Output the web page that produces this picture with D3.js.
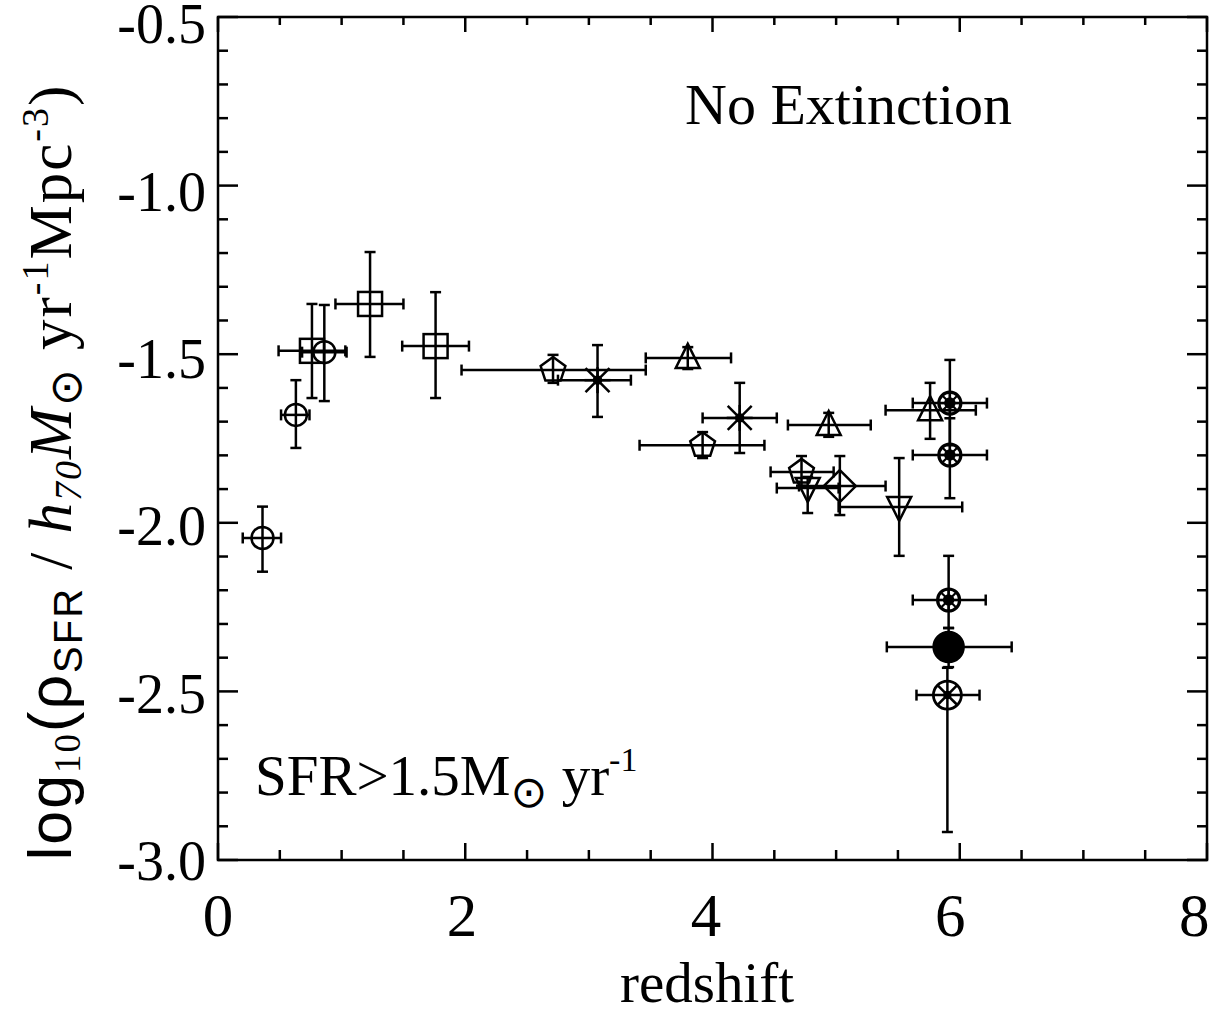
<!DOCTYPE html>
<html><head><meta charset="utf-8">
<script src="https://cdn.jsdelivr.net/npm/d3@7"></script>
<style>body{margin:0;background:#fff}svg{display:block}</style>
</head><body><svg id="c" width="1217" height="1016"></svg>
<script>
// ---- data ----
const redshift = [0.36, 0.63, 0.76, 0.86, 1.23, 1.76, 2.71, 3.07, 3.80, 3.92, 4.22, 4.94, 4.72, 4.77, 5.03, 5.51, 5.76, 5.92, 5.92, 5.91, 5.91, 5.90];
const logSFR   = [-2.045, -1.680, -1.490, -1.494, -1.351, -1.476, -1.547, -1.577, -1.511, -1.770, -1.689, -1.710, -1.849, -1.897, -1.891, -1.953, -1.666, -1.645, -1.799, -2.229, -2.368, -2.511];
const zLow     = [0.20, 0.51, 0.49, 0.68, 0.95, 1.49, 1.97, 2.75, 3.46, 3.41, 3.92, 4.61, 4.47, 4.52, 4.70, 5.02, 5.40, 5.62, 5.62, 5.62, 5.41, 5.65];
const zHigh    = [0.51, 0.74, 1.03, 1.04, 1.50, 2.03, 3.46, 3.34, 4.15, 4.42, 4.52, 5.28, 4.98, 5.02, 5.40, 6.02, 6.13, 6.22, 6.22, 6.21, 6.42, 6.16];
const yLow     = [-2.145, -1.778, -1.630, -1.639, -1.508, -1.630, -1.585, -1.686, -1.544, -1.808, -1.793, -1.745, -1.890, -1.971, -1.977, -2.098, -1.751, -1.770, -1.927, -2.312, -2.428, -2.917];
const yHigh    = [-1.952, -1.577, -1.351, -1.354, -1.197, -1.316, -1.502, -1.473, -1.479, -1.731, -1.585, -1.674, -1.802, -1.864, -1.802, -1.808, -1.585, -1.517, -1.690, -2.098, -2.312, -2.430];
const symbols  = ["circle","circle","square","circle","square","square","pentagon","asterisk","triangle","pentagon","asterisk","triangle","pentagon","triangleDown","diamond","triangleDown","triangle","circleSpoke","circleSpoke","circleSpoke","filledCircle","circleX"];
const xTickLabels = [0, 2, 4, 6, 8];
const yTickLabels = [-0.5, -1.0, -1.5, -2.0, -2.5, -3.0];

const svg = d3.select("#c");
svg.append("rect").attr("width",1217).attr("height",1016).attr("fill","#fff");

const x = d3.scaleLinear().domain([0, 8]).range([218, 1207]);
const y = d3.scaleLinear().domain([-3.0, -0.5]).range([860, 17]);
const L = 218, R = 1207, T = 17, B = 860;
const serif = "'Liberation Serif','Times New Roman',serif";
const sans = "'Liberation Sans',Arial,sans-serif";
const SW = 2.5;

// ---- axes ----
const ax = svg.append("g").attr("stroke","#000").attr("stroke-width",SW).attr("fill","none");
ax.append("rect").attr("x",L).attr("y",T).attr("width",R-L).attr("height",B-T);

const xMinor = d3.range(0, 8.001, 0.5);
xMinor.forEach(v => {
  const major = Math.abs(v - Math.round(v/2)*2) < 1e-6;
  const len = major ? 17 : 10;
  ax.append("line").attr("x1",x(v)).attr("x2",x(v)).attr("y1",B).attr("y2",B-len);
  ax.append("line").attr("x1",x(v)).attr("x2",x(v)).attr("y1",T).attr("y2",T+(major?15:8));
});
const yMinor = d3.range(-3.0, -0.499, 0.1);
yMinor.forEach(v => {
  const major = Math.abs(v*2 - Math.round(v*2)) < 1e-6;
  const len = major ? 20 : 10;
  ax.append("line").attr("x1",L).attr("x2",L+len).attr("y1",y(v)).attr("y2",y(v));
  ax.append("line").attr("x1",R).attr("x2",R-len).attr("y1",y(v)).attr("y2",y(v));
});

// tick labels (slight drift as in the scanned original)
svg.append("g").selectAll("text").data(xTickLabels).join("text")
  .attr("x", d => x(d) - 1.6*d).attr("y", 936)
  .attr("text-anchor","middle").attr("font-family",serif).attr("font-size",61)
  .text(d => d);
svg.append("g").selectAll("text").data(yTickLabels).join("text")
  .attr("x", 206).attr("y", d => y(d) + 2.4*(d + 3)).attr("dy","0.36em")
  .attr("text-anchor","end").attr("font-family",serif).attr("font-size",56)
  .text(d => d.toFixed(1));

// axis titles
svg.append("text").attr("x", 707).attr("y", 1002).attr("text-anchor","middle")
  .attr("font-family",serif).attr("font-size",57).text("redshift");

const yt = svg.append("text").attr("transform","translate(71,472) rotate(-90)")
  .attr("text-anchor","middle").attr("font-size",61).attr("font-family",serif)
  .attr("letter-spacing",2);
yt.append("tspan").attr("font-family",sans).text("log");
yt.append("tspan").attr("font-family",serif).attr("font-size",37).attr("dy",9).text("10");
yt.append("tspan").attr("font-family",sans).attr("dy",-9).text("(ρ");
yt.append("tspan").attr("font-family",sans).attr("font-size",40).attr("dy",11).text("SFR");
yt.append("tspan").attr("dy",-11).text(" / ");
yt.append("tspan").attr("font-style","italic").text("h");
yt.append("tspan").attr("font-style","italic").attr("font-size",38).attr("dy",10).text("70");
yt.append("tspan").attr("font-style","italic").attr("dy",-10).text("M");
yt.append("tspan").attr("font-family","'DejaVu Sans',sans-serif").attr("font-size",44).attr("dy",10).text("⊙");
yt.append("tspan").attr("dy",-10).text(" yr");
yt.append("tspan").attr("font-size",38).attr("dy",-23).text("-1");
yt.append("tspan").attr("dy",23).text("Mpc");
yt.append("tspan").attr("font-size",38).attr("dy",-23).text("-3");
yt.append("tspan").attr("dy",23).text(")");

// annotations
svg.append("text").attr("x", 685).attr("y", 124).attr("font-family",serif).attr("font-size",58).text("No Extinction");
const ann = svg.append("text").attr("x", 255).attr("y", 795).attr("font-family",serif).attr("font-size",57);
ann.append("tspan").text("SFR>1.5M");
ann.append("tspan").attr("font-family","'DejaVu Sans',sans-serif").attr("font-size",44).attr("dy",12).text("⊙");
ann.append("tspan").attr("dy",-12).text(" yr");
ann.append("tspan").attr("font-size",34).attr("dy",-24).text("-1");

// ---- data marks ----
const pts = redshift.map((z,i) => ({z, v:logSFR[i], zl:zLow[i], zh:zHigh[i], yl:yLow[i], yh:yHigh[i], s:symbols[i]}));
const eb = svg.append("g").attr("stroke","#000").attr("stroke-width",SW).attr("fill","none");
const cap = 5.5;
pts.forEach(p => {
  const cx = x(p.z), cy = y(p.v);
  eb.append("line").attr("x1",x(p.zl)).attr("x2",x(p.zh)).attr("y1",cy).attr("y2",cy);
  eb.append("line").attr("x1",x(p.zl)).attr("x2",x(p.zl)).attr("y1",cy-cap).attr("y2",cy+cap);
  eb.append("line").attr("x1",x(p.zh)).attr("x2",x(p.zh)).attr("y1",cy-cap).attr("y2",cy+cap);
  eb.append("line").attr("x1",cx).attr("x2",cx).attr("y1",y(p.yl)).attr("y2",y(p.yh));
  eb.append("line").attr("x1",cx-cap).attr("x2",cx+cap).attr("y1",y(p.yl)).attr("y2",y(p.yl));
  eb.append("line").attr("x1",cx-cap).attr("x2",cx+cap).attr("y1",y(p.yh)).attr("y2",y(p.yh));
});

function poly(n, r, rot) {
  return d3.range(n).map(k => {
    const a = rot + k*2*Math.PI/n;
    return [r*Math.sin(a), -r*Math.cos(a)];
  });
}
const line = d3.line().curve(d3.curveLinearClosed);
const sg = svg.append("g").attr("stroke","#000").attr("stroke-width",SW).attr("fill","none");
pts.forEach(p => {
  const g = sg.append("g").attr("transform",`translate(${x(p.z)},${y(p.v)})`);
  switch (p.s) {
    case "circle": g.append("circle").attr("r",11); break;
    case "square": g.append("rect").attr("x",-12).attr("y",-12).attr("width",24).attr("height",24); break;
    case "pentagon": g.append("path").attr("d", line(poly(5, 13, 0))); break;
    case "triangle": g.append("path").attr("d", line([[0,-14],[12,10],[-12,10]])); break;
    case "triangleDown": g.append("path").attr("d", line([[0,14],[12,-10],[-12,-10]])); break;
    case "diamond": g.append("path").attr("d", line([[0,-16],[16,0],[0,16],[-16,0]])); break;
    case "asterisk":
      [[-12,-12,12,12],[-12,12,12,-12],[-13,0,13,0],[0,-13,0,13]].forEach(l =>
        g.append("line").attr("x1",l[0]).attr("y1",l[1]).attr("x2",l[2]).attr("y2",l[3]));
      g.append("circle").attr("r",3.5).attr("fill","#000");
      break;
    case "circleSpoke":
      g.append("circle").attr("r",11).attr("stroke-width",3.2);
      [0,45,90,135].forEach(a => g.append("line").attr("x1",-10).attr("x2",10).attr("y1",0).attr("y2",0)
        .attr("transform",`rotate(${a})`).attr("stroke-width",2.2));
      g.append("circle").attr("r",4.5).attr("fill","#000");
      break;
    case "filledCircle": g.append("circle").attr("r",15).attr("fill","#000"); break;
    case "circleX":
      g.append("circle").attr("r",14).attr("stroke-width",2.8);
      [45,135].forEach(a => g.append("line").attr("x1",-14).attr("x2",14).attr("y1",0).attr("y2",0)
        .attr("transform",`rotate(${a})`));
      g.append("circle").attr("r",3).attr("fill","#000");
      break;
  }
});
</script>
</body></html>
